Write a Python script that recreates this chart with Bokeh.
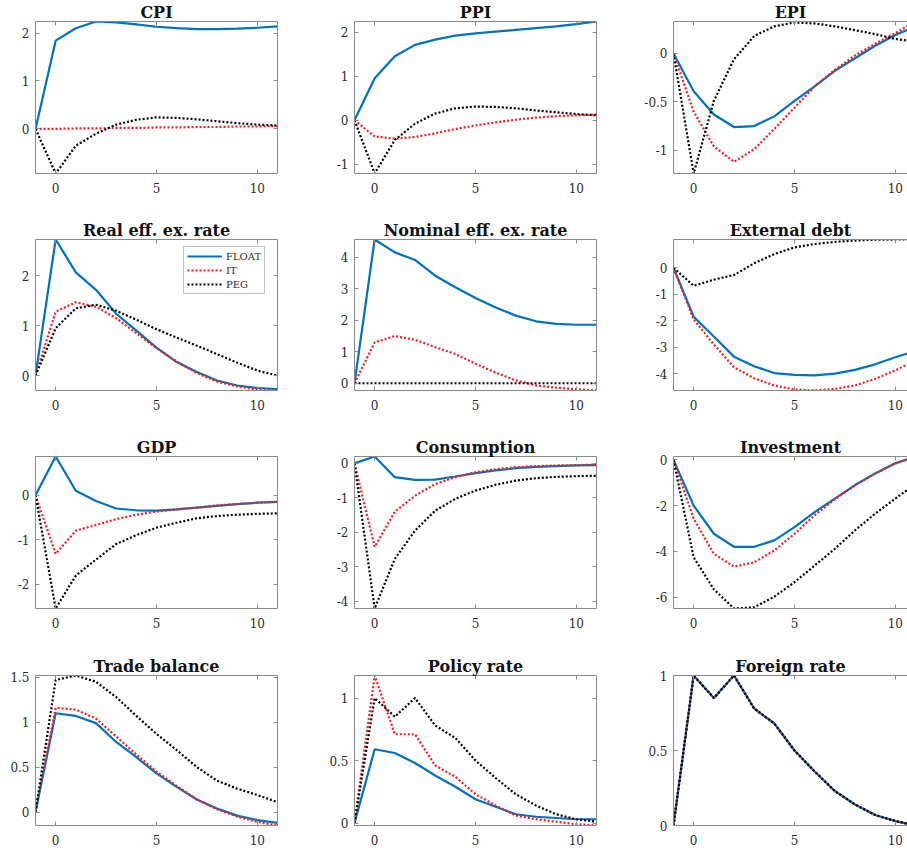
from bokeh.plotting import figure
from bokeh.layouts import column, row
from bokeh.models import Range1d, FixedTicker, LinearAxis, Legend, LegendItem, Title
from bokeh.embed import file_html
from bokeh.resources import INLINE

# Quarters after the shock (period -1 is the pre-shock steady state)
periods = list(range(-1, 12))
x_ticks = [0, 5, 10]

# Impulse responses under three regimes: FLOAT, IT (inflation targeting), PEG
cpi_float = [0, 1.84, 2.10, 2.24, 2.22, 2.18, 2.13, 2.10, 2.08, 2.08, 2.09, 2.11, 2.14]
cpi_it = [0, 0.00, 0.01, 0.01, 0.02, 0.02, 0.03, 0.03, 0.04, 0.04, 0.05, 0.05, 0.06]
cpi_peg = [0, -0.93, -0.35, -0.10, 0.09, 0.19, 0.24, 0.23, 0.20, 0.16, 0.12, 0.09, 0.07]
cpi_ticks = [0, 1, 2]

ppi_float = [0, 0.95, 1.45, 1.71, 1.83, 1.92, 1.97, 2.01, 2.05, 2.09, 2.13, 2.18, 2.24]
ppi_it = [0, -0.37, -0.42, -0.38, -0.30, -0.20, -0.12, -0.05, 0.01, 0.06, 0.09, 0.11, 0.13]
ppi_peg = [0, -1.21, -0.45, -0.08, 0.15, 0.27, 0.31, 0.30, 0.27, 0.22, 0.18, 0.14, 0.11]
ppi_ticks = [-1, 0, 1, 2]

epi_float = [0, -0.39, -0.63, -0.76, -0.75, -0.65, -0.49, -0.34, -0.18, -0.05, 0.08, 0.19, 0.28]
epi_it = [0, -0.60, -0.96, -1.12, -0.99, -0.78, -0.56, -0.34, -0.17, -0.02, 0.10, 0.21, 0.33]
epi_peg = [0, -1.24, -0.49, -0.06, 0.18, 0.28, 0.32, 0.31, 0.28, 0.24, 0.20, 0.15, 0.12]
epi_ticks = [-1, -0.5, 0]

reer_float = [0, 2.73, 2.07, 1.72, 1.24, 0.90, 0.56, 0.27, 0.07, -0.10, -0.20, -0.25, -0.27]
reer_it = [0, 1.28, 1.47, 1.38, 1.15, 0.85, 0.55, 0.28, 0.05, -0.12, -0.22, -0.28, -0.30]
reer_peg = [0, 0.95, 1.35, 1.42, 1.30, 1.12, 0.93, 0.76, 0.60, 0.43, 0.26, 0.10, 0.00]
reer_ticks = [0, 1, 2]

neer_float = [0, 4.57, 4.16, 3.92, 3.42, 3.05, 2.71, 2.41, 2.15, 1.97, 1.89, 1.86, 1.86]
neer_it = [0, 1.30, 1.50, 1.38, 1.15, 0.93, 0.62, 0.34, 0.09, -0.07, -0.14, -0.19, -0.23]
neer_peg = [0, 0, 0, 0, 0, 0, 0, 0, 0, 0, 0, 0, 0]
neer_ticks = [0, 1, 2, 3, 4]

debt_float = [0, -1.85, -2.60, -3.36, -3.72, -3.98, -4.05, -4.07, -4.00, -3.86, -3.65, -3.38, -3.15]
debt_it = [0, -1.95, -2.90, -3.76, -4.18, -4.45, -4.60, -4.64, -4.58, -4.45, -4.20, -3.88, -3.50]
debt_peg = [0, -0.68, -0.45, -0.27, 0.17, 0.52, 0.77, 0.90, 0.98, 1.03, 1.06, 1.07, 1.07]
debt_ticks = [-4, -3, -2, -1, 0]

gdp_float = [0, 0.87, 0.10, -0.13, -0.30, -0.34, -0.35, -0.32, -0.28, -0.24, -0.20, -0.17, -0.15]
gdp_it = [0, -1.32, -0.80, -0.67, -0.54, -0.44, -0.37, -0.32, -0.28, -0.23, -0.20, -0.17, -0.15]
gdp_peg = [0, -2.55, -1.81, -1.45, -1.10, -0.90, -0.73, -0.62, -0.52, -0.47, -0.44, -0.42, -0.41]
gdp_ticks = [-2, -1, 0]

cons_float = [0, 0.20, -0.40, -0.48, -0.47, -0.38, -0.28, -0.20, -0.14, -0.10, -0.08, -0.06, -0.05]
cons_it = [0, -2.42, -1.40, -0.94, -0.60, -0.40, -0.26, -0.17, -0.11, -0.08, -0.06, -0.05, -0.04]
cons_peg = [0, -4.21, -2.77, -1.95, -1.37, -1.03, -0.79, -0.62, -0.50, -0.43, -0.39, -0.37, -0.36]
cons_ticks = [-4, -3, -2, -1, 0]

inv_float = [0, -2.00, -3.23, -3.80, -3.80, -3.52, -2.94, -2.28, -1.69, -1.10, -0.59, -0.15, 0.15]
inv_it = [0, -2.57, -4.11, -4.67, -4.48, -3.96, -3.23, -2.42, -1.72, -1.12, -0.60, -0.15, 0.14]
inv_peg = [0, -4.26, -5.66, -6.50, -6.45, -5.98, -5.35, -4.62, -3.89, -3.08, -2.35, -1.69, -1.05]
inv_ticks = [-6, -4, -2, 0]

tb_float = [0, 1.10, 1.07, 0.99, 0.78, 0.61, 0.43, 0.28, 0.14, 0.04, -0.04, -0.09, -0.12]
tb_it = [0, 1.16, 1.14, 1.04, 0.84, 0.64, 0.45, 0.29, 0.14, 0.03, -0.05, -0.11, -0.15]
tb_peg = [0, 1.47, 1.52, 1.45, 1.28, 1.07, 0.87, 0.69, 0.50, 0.35, 0.26, 0.19, 0.11]
tb_ticks = [0, 0.5, 1, 1.5]

pol_float = [0, 0.59, 0.56, 0.48, 0.38, 0.29, 0.19, 0.13, 0.07, 0.05, 0.04, 0.03, 0.03]
pol_it = [0, 1.18, 0.71, 0.71, 0.46, 0.37, 0.23, 0.14, 0.06, 0.03, 0.01, -0.01, -0.02]
pol_peg = [0, 1.00, 0.85, 1.00, 0.78, 0.68, 0.50, 0.36, 0.23, 0.14, 0.07, 0.03, 0.01]
pol_ticks = [0, 0.5, 1]

frn_float = [0, 1.00, 0.85, 1.00, 0.78, 0.68, 0.50, 0.36, 0.23, 0.14, 0.07, 0.03, 0.00]
frn_it = [0, 1.00, 0.85, 1.00, 0.78, 0.68, 0.50, 0.36, 0.23, 0.14, 0.07, 0.03, 0.00]
frn_peg = [0, 1.00, 0.85, 1.00, 0.78, 0.68, 0.50, 0.36, 0.23, 0.14, 0.07, 0.03, 0.00]
frn_ticks = [0, 0.5, 1]

regimes = ["FLOAT", "IT", "PEG"]

panels = [
    ("CPI", cpi_float, cpi_it, cpi_peg, cpi_ticks),
    ("PPI", ppi_float, ppi_it, ppi_peg, ppi_ticks),
    ("EPI", epi_float, epi_it, epi_peg, epi_ticks),
    ("Real eff. ex. rate", reer_float, reer_it, reer_peg, reer_ticks),
    ("Nominal eff. ex. rate", neer_float, neer_it, neer_peg, neer_ticks),
    ("External debt", debt_float, debt_it, debt_peg, debt_ticks),
    ("GDP", gdp_float, gdp_it, gdp_peg, gdp_ticks),
    ("Consumption", cons_float, cons_it, cons_peg, cons_ticks),
    ("Investment", inv_float, inv_it, inv_peg, inv_ticks),
    ("Trade balance", tb_float, tb_it, tb_peg, tb_ticks),
    ("Policy rate", pol_float, pol_it, pol_peg, pol_ticks),
    ("Foreign rate", frn_float, frn_it, frn_peg, frn_ticks),
]

# layout geometry (pixels); the heading panel above each frame is ~21.5 px
FRAME_W = [242, 242, 234]
BORDER_L = [35, 35, 36]
BORDER_R = [42, 41, 0]
FRAME_H = [152, 151, 152, 150]
BORDER_T = [20, 20, 20, 20]
BORDER_B = [45, 45, 46, 31]
UNIT_PX = 242 / 12.0  # pixels per period

SERIF = "DejaVu Serif"
FRAME_COLOR = "#8a8a8a"
TEXT_COLOR = "#2b2b2b"
STYLE = {
    "FLOAT": dict(line_color="#0072BD", line_width=2.2),
    "IT": dict(line_color="#FF1A1A", line_width=2.2, line_dash="2 2"),
    "PEG": dict(line_color="#000000", line_width=2.2, line_dash="2 2"),
}


def fmt(v):
    return f"{v:g}"


def style_axis(ax, ticks, labels=True):
    ax.ticker = FixedTicker(ticks=ticks)
    ax.minor_tick_line_color = None
    ax.major_tick_in = 4
    ax.major_tick_out = 0
    ax.major_tick_line_color = FRAME_COLOR
    ax.axis_line_color = FRAME_COLOR
    ax.axis_line_width = 1
    if labels:
        ax.major_label_overrides = {t: fmt(t) for t in ticks}
        ax.major_label_text_font = SERIF
        ax.major_label_text_font_size = "12px"
        ax.major_label_text_color = TEXT_COLOR
    else:
        # mirrored box edge: ticks only, no labels
        ax.major_label_text_font_size = "0px"
        ax.major_label_standoff = 0
        ax.major_label_text_color = None


def make_panel(idx, title, fl, it, peg, yticks):
    r, c = divmod(idx, 3)
    x_end = -1 + FRAME_W[c] / UNIT_PX
    allv = fl + it + peg
    lo, hi = min(allv), max(allv)
    p = figure(
        frame_width=FRAME_W[c], frame_height=FRAME_H[r],
        x_range=Range1d(-1, x_end), y_range=Range1d(lo, hi),
        min_border_left=BORDER_L[c], min_border_right=BORDER_R[c],
        min_border_top=BORDER_T[r], min_border_bottom=BORDER_B[r],
        output_backend="svg", toolbar_location=None,
        background_fill_color="white", border_fill_color="white",
        title=None,
    )
    p.outline_line_color = None
    p.xgrid.visible = False
    p.ygrid.visible = False

    style_axis(p.xaxis[0], x_ticks)
    p.xaxis[0].major_label_standoff = 9
    style_axis(p.yaxis[0], yticks)
    p.yaxis[0].major_label_standoff = 6

    top = LinearAxis()
    style_axis(top, x_ticks, labels=False)
    p.add_layout(top, "above")
    if c < 2:
        right = LinearAxis()
        style_axis(right, yticks, labels=False)
        p.add_layout(right, "right")

    series = [fl, it, peg]
    rends = []
    for name, vals in zip(regimes, series):
        rends.append(p.line(periods, vals, **STYLE[name]))

    # panel heading centred over the full -1..11 span
    offset = (FRAME_W[0] - FRAME_W[c]) / 2.0
    p.add_layout(Title(
        text=title, align="center", offset=offset, standoff=0,
        text_font=SERIF, text_font_style="bold", text_font_size="16px",
        text_color="#111111",
    ), "above")

    if title == "Real eff. ex. rate":
        leg = Legend(
            items=[LegendItem(label=n, renderers=[rr]) for n, rr in zip(regimes, rends)],
            location=(148, 96),
            label_text_font=SERIF, label_text_font_size="10px",
            label_text_color=TEXT_COLOR,
            glyph_width=35, glyph_height=12, label_height=12,
            spacing=2, padding=3, margin=0, label_standoff=4,
            border_line_color=FRAME_COLOR, background_fill_alpha=1.0,
        )
        p.add_layout(leg)
    return p


figs = [make_panel(i, *panel) for i, panel in enumerate(panels)]
grid = column(
    *[row(*figs[3 * k:3 * k + 3], spacing=0) for k in range(4)],
    spacing=0,
)

open("out.html", "w").write(file_html(grid, INLINE))
